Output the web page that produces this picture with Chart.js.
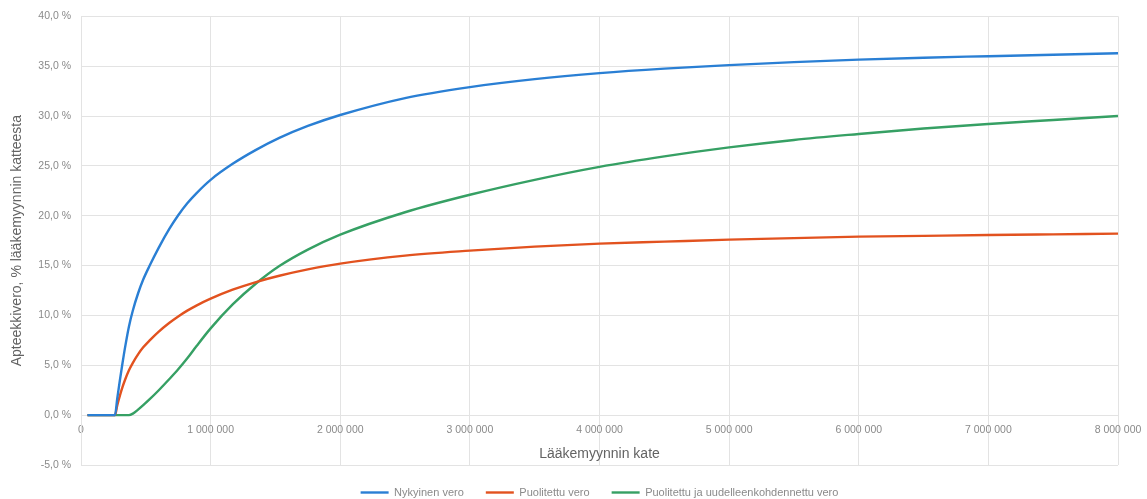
<!DOCTYPE html>
<html>
<head>
<meta charset="utf-8">
<script src="https://cdn.jsdelivr.net/npm/chart.js@4/dist/chart.umd.min.js"></script>
<style>
  html, body { margin: 0; padding: 0; background: #ffffff; }
  #wrap { width: 1147px; height: 499px; position: relative; }
</style>
</head>
<body>
<div id="wrap"><canvas id="c"></canvas></div>
<script>
// Lääkemyynnin kate (euro)
const kate = [50000, 262000, 280000, 300000, 320000, 340000, 370000, 400000, 440000, 480000, 530000,
  600000, 680000, 750000, 820000, 890000, 1000000, 1170000, 1350000, 1530000, 1750000, 2000000,
  2500000, 3000000, 3500000, 4000000, 4500000, 5000000, 5500000, 6000000, 6500000, 7000000, 7500000, 8000000];

// Apteekkivero, % lääkemyynnin katteesta
const nykyinenVero = [0, 0, 1.7, 3.5, 5.2, 6.8, 8.9, 10.5, 12.2, 13.6, 15.0,
  16.8, 18.65, 20.05, 21.25, 22.25, 23.6, 25.2, 26.6, 27.8, 29.0, 30.1,
  31.8, 32.9, 33.7, 34.3, 34.75, 35.1, 35.4, 35.65, 35.85, 36.0, 36.15, 36.3];
const puolitettuVero = [0, 0, 1.0, 1.95, 2.8, 3.55, 4.5, 5.25, 6.1, 6.8, 7.5,
  8.38, 9.24, 9.9, 10.48, 10.99, 11.68, 12.58, 13.35, 13.98, 14.62, 15.2,
  16.0, 16.5, 16.9, 17.2, 17.4, 17.6, 17.75, 17.9, 17.98, 18.06, 18.13, 18.2];
const kohdennettuVero = [0, 0, 0, 0, 0, 0, 0, 0.15, 0.55, 1.0, 1.6,
  2.5, 3.6, 4.6, 5.7, 6.9, 8.7, 11.1, 13.2, 14.95, 16.6, 18.1,
  20.35, 22.1, 23.6, 24.9, 25.95, 26.85, 27.6, 28.2, 28.75, 29.2, 29.6, 30.0];

const seriesNames = ['Nykyinen vero', 'Puolitettu vero', 'Puolitettu ja uudelleenkohdennettu vero'];
const yTicks = { min: -5, max: 40, step: 5 };
const xTicks = { min: 0, max: 8000000, step: 1000000 };

const colors = ['#2a7fd4', '#e2521f', '#36a064'];
const seriesValues = [nykyinenVero, puolitettuVero, kohdennettuVero];

const datasets = seriesValues.map((vals, i) => ({
  label: seriesNames[i],
  data: kate.map((x, j) => ({ x: x, y: vals[j] })),
  borderColor: colors[i],
  backgroundColor: colors[i],
  borderWidth: 2.4,
  pointRadius: 0,
  pointHoverRadius: 0,
  pointStyle: 'line',
  cubicInterpolationMode: 'monotone',
  fill: false
}));

const tickColor = '#8a8a8a';
const titleColor = '#636363';
const gridColor = '#e3e3e3';
const fam = '"Liberation Sans", Arial, sans-serif';

function fmtThousands(v) {
  return String(Math.round(v)).replace(/\B(?=(\d{3})+(?!\d))/g, ' ');
}

new Chart(document.getElementById('c'), {
  type: 'line',
  data: { datasets: datasets },
  options: {
    responsive: true,
    maintainAspectRatio: false,
    animation: false,
    events: [],
    layout: { padding: { left: 0, right: 29, top: 16, bottom: -9 } },
    plugins: {
      legend: {
        position: 'bottom',
        fullSize: false,
        labels: {
          usePointStyle: true,
          pointStyle: 'line',
          pointStyleWidth: 28,
          padding: 22,
          color: '#8a8a8a',
          font: { family: fam, size: 11 }
        }
      },
      tooltip: { enabled: false }
    },
    scales: {
      x: {
        type: 'linear',
        position: { y: 0 },
        min: xTicks.min,
        max: xTicks.max,
        ticks: {
          stepSize: xTicks.step,
          color: tickColor,
          padding: 9,
          maxRotation: 0,
          font: { family: fam, size: 10.5 },
          callback: (v) => fmtThousands(v)
        },
        grid: { color: gridColor, drawTicks: false, lineWidth: 1 },
        border: { color: gridColor },
        title: {
          display: true,
          text: 'Lääkemyynnin kate',
          color: titleColor,
          font: { family: fam, size: 14 },
          padding: { top: 0, bottom: 0 }
        },
        afterFit: (scale) => { scale.paddingLeft = 0; scale.paddingRight = 0; }
      },
      y: {
        min: yTicks.min,
        max: yTicks.max,
        ticks: {
          stepSize: yTicks.step,
          color: tickColor,
          padding: 10,
          font: { family: fam, size: 10.5 },
          callback: (v) => v.toFixed(1).replace('.', ',') + ' %'
        },
        grid: { color: gridColor, drawTicks: false, lineWidth: 1 },
        border: { color: gridColor },
        title: {
          display: true,
          text: 'Apteekkivero, % lääkemyynnin katteesta',
          color: titleColor,
          font: { family: fam, size: 14 },
          padding: { top: 9, bottom: 0 }
        },
        afterFit: (scale) => { scale.width = 81; }
      }
    }
  }
});
</script>
</body>
</html>
